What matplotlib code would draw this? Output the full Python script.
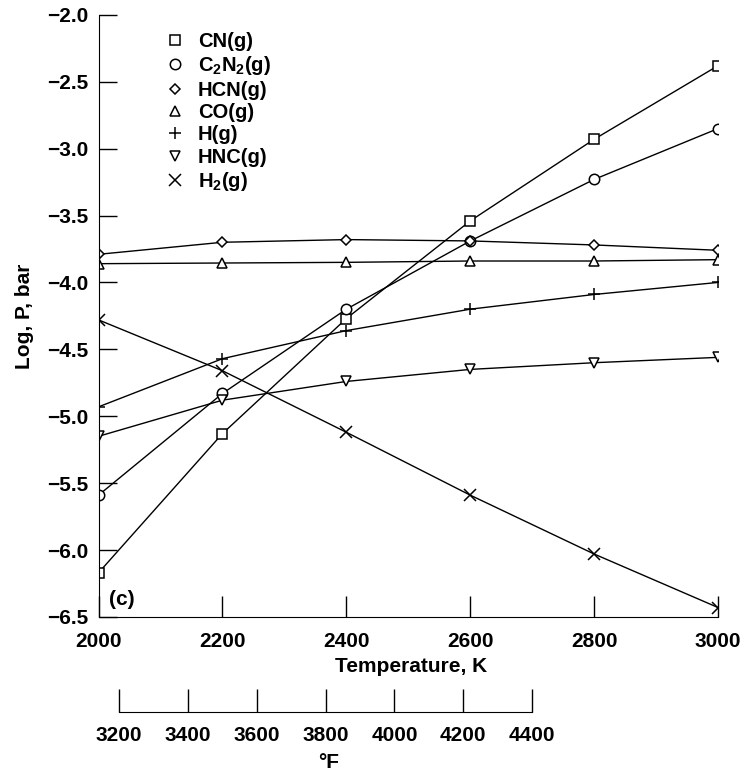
import numpy as np
import matplotlib.pyplot as plt

plt.rcParams['font.family'] = ['Liberation Sans', 'DejaVu Sans']
plt.rcParams['font.weight'] = 'bold'
plt.rcParams['axes.labelweight'] = 'bold'
plt.rcParams['mathtext.fontset'] = 'custom'
plt.rcParams['mathtext.rm'] = 'Liberation Sans:bold'
plt.rcParams['mathtext.it'] = 'Liberation Sans:bold'
plt.rcParams['mathtext.bf'] = 'Liberation Sans:bold'

# data (log P, bar)
temp_k = [2000, 2200, 2400, 2600, 2800, 3000]
cn = [-6.17, -5.13, -4.27, -3.54, -2.93, -2.38]
c2n2 = [-5.59, -4.83, -4.20, -3.69, -3.23, -2.85]
hcn = [-3.79, -3.70, -3.68, -3.69, -3.72, -3.76]
co = [-3.86, -3.855, -3.85, -3.84, -3.84, -3.83]
h = [-4.93, -4.57, -4.36, -4.20, -4.09, -4.00]
hnc = [-5.15, -4.88, -4.74, -4.65, -4.60, -4.56]
h2 = [-4.28, -4.66, -5.12, -5.59, -6.03, -6.43]

labels = ['CN(g)', r'C$_2$N$_2$(g)', 'HCN(g)', 'CO(g)', 'H(g)', 'HNC(g)', r'H$_2$(g)']
markers = ['s', 'o', 'D', '^', '+', 'v', 'x']
sizes = [7, 7.5, 5.5, 7, 8, 7, 8]
y_ticks = [-6.5, -6.0, -5.5, -5.0, -4.5, -4.0, -3.5, -3.0, -2.5, -2.0]
y_ticklabels = ['\u22126.5', '\u22126.0', '\u22125.5', '\u22125.0', '\u22124.5',
                '\u22124.0', '\u22123.5', '\u22123.0', '\u22122.5', '\u22122.0']
f_ticks = [3200, 3400, 3600, 3800, 4000, 4200, 4400]

fig = plt.figure(figsize=(7.52, 7.74), dpi=100)
ax = fig.add_axes([0.131, 0.2029, 0.824, 0.778])

series = [cn, c2n2, hcn, co, h, hnc, h2]
for i in range(len(series)):
    ax.plot(temp_k, series[i], color='black', lw=1.0, marker=markers[i],
            ms=sizes[i], mfc='white', mec='black', mew=1.1, label=labels[i])

ax.set_xlim(2000, 3000)
ax.set_ylim(-6.5, -2.0)
ax.set_xticks([2000, 2200, 2400, 2600, 2800, 3000])
ax.set_yticks(y_ticks)
ax.set_yticklabels(y_ticklabels)
ax.spines['top'].set_visible(False)
ax.spines['right'].set_visible(False)
ax.tick_params(axis='x', direction='in', length=15, width=1, pad=11, labelsize=15)
ax.tick_params(axis='y', direction='in', length=13, width=1, pad=7, labelsize=15)

ax.set_xlabel('Temperature, K', fontsize=15, va='center')
ax.xaxis.set_label_coords(0.505, -0.083)
ax.set_ylabel('Log, P, bar', fontsize=15, va='center')
ax.yaxis.set_label_coords(-0.12, 0.5)

ax.text(2037, -6.37, '(c)', fontsize=15, ha='center', va='center')

leg = ax.legend(loc='upper left', bbox_to_anchor=(0.219, 0.959),
                bbox_transform=fig.transFigure, frameon=False, fontsize=14.5,
                handlelength=1.0, handletextpad=0.65, labelspacing=0.17,
                borderpad=0, borderaxespad=0)
for line in leg.get_lines():
    line.set_linestyle('none')

# Fahrenheit scale under the kelvin axis
sec = ax.secondary_xaxis(-0.158, functions=(lambda k: k * 1.8 - 459.67,
                                            lambda f: (f + 459.67) / 1.8))
sec.set_xticks(f_ticks)
sec.spines['bottom'].set_bounds(3200, 4400)
sec.tick_params(direction='in', length=16.5, width=1, pad=10, labelsize=15)
fig.text(329 / 752, 1 - 762 / 774, '°F', fontsize=15, ha='center', va='center')

fig.savefig('out.png', dpi=100)
